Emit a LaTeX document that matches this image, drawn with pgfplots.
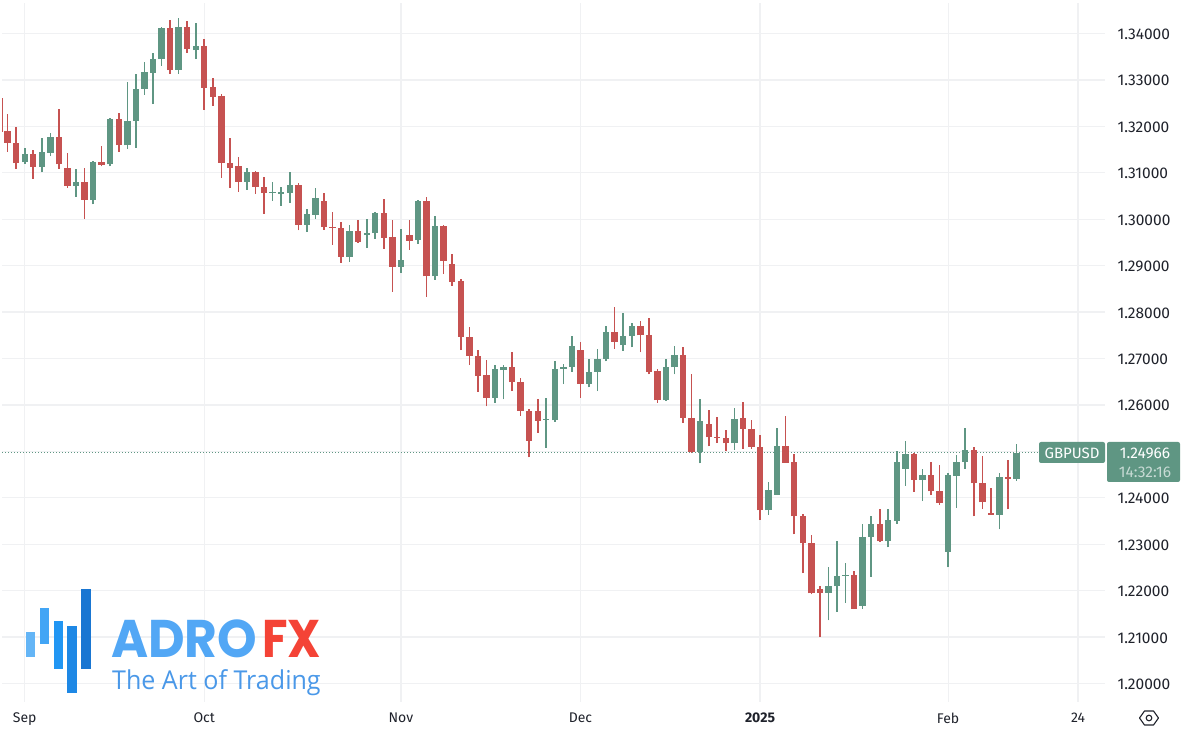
\documentclass[border=0pt]{standalone}
\usepackage{pgfplots}
\usepackage{pgfplotstable}
\usepackage{fontspec}
\pgfplotsset{compat=1.18}
\setmainfont{Fira Sans}
\newfontfamily\logofont{Poppins}
\newfontfamily\tagfont{Open Sans}
\definecolor{cred}{HTML}{C65251}
\definecolor{cgreen}{HTML}{5F9683}
\definecolor{gridc}{HTML}{F0F1F3}
\definecolor{labc}{HTML}{1F222B}
\definecolor{la}{HTML}{64B5F6}
\definecolor{lb}{HTML}{42A5F5}
\definecolor{lc}{HTML}{2196F3}
\definecolor{ld}{HTML}{1E88E5}
\definecolor{le}{HTML}{1976D2}
\definecolor{adro}{HTML}{52A7F5}
\definecolor{fx}{HTML}{F44336}
\definecolor{tagc}{HTML}{4A98E8}
\pgfplotstableread{
x high top bot low
-0.63 1.3260 1.3188 1.3188 1.3188
0 1.3226 1.3190 1.3165 1.3145
1 1.3199 1.3165 1.3121 1.3109
3 1.3149 1.3141 1.3113 1.3087
6 1.3238 1.3177 1.3118 1.3109
7 1.3142 1.3110 1.3072 1.3068
9 1.3110 1.3080 1.3042 1.3001
11 1.3157 1.3123 1.3117 1.3114
13 1.3228 1.3215 1.3159 1.3145
19 1.3429 1.3411 1.3321 1.3313
21 1.3426 1.3414 1.3366 1.3358
23 1.3389 1.3373 1.3283 1.3236
24 1.3305 1.3284 1.3264 1.3244
25 1.3269 1.3265 1.3122 1.3089
26 1.3174 1.3122 1.3111 1.3068
27 1.3133 1.3114 1.3081 1.3059
29 1.3103 1.3101 1.3069 1.3055
30 1.3092 1.3069 1.3056 1.3012
34 1.3077 1.3073 1.2988 1.2976
37 1.3056 1.3039 1.2983 1.2977
38 1.3015 1.2984 1.2982 1.2945
39 1.2994 1.2982 1.2919 1.2906
41 1.2998 1.2974 1.2951 1.2949
44 1.3043 1.3013 1.2960 1.2936
45 1.2999 1.2961 1.2898 1.2844
47 1.2998 1.2966 1.2954 1.2934
49 1.3048 1.3040 1.2877 1.2833
51 1.2987 1.2985 1.2910 1.2882
52 1.2925 1.2903 1.2865 1.2857
53 1.2872 1.2867 1.2747 1.2718
54 1.2767 1.2747 1.2706 1.2686
55 1.2718 1.2706 1.2663 1.2628
56 1.2696 1.2664 1.2615 1.2597
59 1.2714 1.2681 1.2649 1.2630
60 1.2659 1.2649 1.2587 1.2577
61 1.2592 1.2587 1.2523 1.2487
62 1.2612 1.2588 1.2566 1.2540
67 1.2735 1.2718 1.2646 1.2616
71 1.2811 1.2758 1.2736 1.2721
74 1.2781 1.2771 1.2750 1.2713
75 1.2787 1.2750 1.2671 1.2666
76 1.2678 1.2674 1.2610 1.2605
79 1.2725 1.2708 1.2572 1.2562
80 1.2666 1.2572 1.2499 1.2496
82 1.2589 1.2559 1.2530 1.2511
83 1.2575 1.2532 1.2530 1.2519
84 1.2547 1.2529 1.2517 1.2501
86 1.2606 1.2572 1.2549 1.2506
87 1.2568 1.2548 1.2510 1.2506
88 1.2535 1.2510 1.2373 1.2352
91 1.2576 1.2512 1.2476 1.2476
92 1.2494 1.2477 1.2360 1.2321
93 1.2365 1.2360 1.2302 1.2238
94 1.2320 1.2302 1.2194 1.2192
95 1.2210 1.2203 1.2196 1.2100
99 1.2242 1.2233 1.2161 1.2160
102 1.2375 1.2344 1.2306 1.2305
106 1.2496 1.2495 1.2439 1.2413
108 1.2477 1.2449 1.2414 1.2406
109 1.2470 1.2414 1.2389 1.2385
113 1.2509 1.2503 1.2431 1.2360
114 1.2490 1.2431 1.2390 1.2376
115 1.2421 1.2368 1.2364 1.2364
117 1.2482 1.2444 1.2441 1.2375
}\redtable
\pgfplotstableread{
x high top bot low
2 1.3154 1.3141 1.3123 1.3119
4 1.3174 1.3144 1.3113 1.3101
5 1.3185 1.3177 1.3143 1.3136
8 1.3108 1.3080 1.3072 1.3048
10 1.3125 1.3123 1.3042 1.3032
12 1.3218 1.3215 1.3118 1.3114
14 1.3296 1.3211 1.3159 1.3152
15 1.3312 1.3280 1.3212 1.3154
16 1.3338 1.3316 1.3281 1.3268
17 1.3358 1.3345 1.3315 1.3248
18 1.3415 1.3411 1.3345 1.3330
20 1.3433 1.3414 1.3322 1.3313
22 1.3422 1.3373 1.3364 1.3345
28 1.3111 1.3101 1.3081 1.3063
31 1.3081 1.3059 1.3057 1.3040
32 1.3070 1.3058 1.3055 1.3029
33 1.3101 1.3073 1.3057 1.3035
35 1.3021 1.3011 1.2988 1.2973
36 1.3068 1.3045 1.3010 1.3000
40 1.2987 1.2974 1.2919 1.2908
42 1.3000 1.2970 1.2966 1.2938
43 1.3015 1.3013 1.2970 1.2958
46 1.2979 1.2913 1.2898 1.2885
48 1.3041 1.3040 1.2955 1.2947
50 1.3008 1.2985 1.2877 1.2870
57 1.2685 1.2677 1.2615 1.2605
58 1.2687 1.2681 1.2675 1.2612
63 1.2616 1.2569 1.2568 1.2508
64 1.2694 1.2677 1.2567 1.2564
65 1.2689 1.2681 1.2678 1.2645
66 1.2748 1.2727 1.2682 1.2671
68 1.2699 1.2671 1.2646 1.2638
69 1.2720 1.2699 1.2671 1.2630
70 1.2770 1.2758 1.2700 1.2694
72 1.2798 1.2749 1.2730 1.2717
73 1.2776 1.2771 1.2748 1.2724
77 1.2698 1.2681 1.2610 1.2609
78 1.2727 1.2708 1.2681 1.2666
81 1.2613 1.2565 1.2499 1.2474
85 1.2593 1.2570 1.2517 1.2504
89 1.2434 1.2416 1.2373 1.2363
90 1.2550 1.2512 1.2407 1.2407
96 1.2250 1.2210 1.2196 1.2136
97 1.2307 1.2231 1.2210 1.2155
98 1.2259 1.2234 1.2233 1.2174
100 1.2344 1.2316 1.2168 1.2161
101 1.2360 1.2344 1.2316 1.2230
103 1.2375 1.2352 1.2306 1.2293
104 1.2500 1.2478 1.2351 1.2344
105 1.2523 1.2495 1.2463 1.2426
107 1.2462 1.2449 1.2439 1.2393
110 1.2454 1.2449 1.2284 1.2250
111 1.2492 1.2478 1.2448 1.2379
112 1.2550 1.2503 1.2478 1.2463
116 1.2453 1.2444 1.2364 1.2332
118 1.2515 1.2497 1.2441 1.2437
}\greentable
\pgfplotsset{
 wick/.style={draw=none,fill=none,no markers,forget plot,error bars/.cd,y dir=plus,y explicit,error mark=none,error bar style={draw=#1,line width=1.6pt}},
 body/.style={draw=none,fill=none,no markers,forget plot,error bars/.cd,y dir=plus,y explicit,error mark=none,error bar style={draw=#1,line width=6.4pt}},
}
\begin{document}
\begin{tikzpicture}[x=1pt,y=1pt]
\path[use as bounding box] (0,0) rectangle (1182,736);
\begin{axis}[
 at={(2pt,34pt)},anchor=south west,scale only axis,width=1103pt,height=699pt,
 xmin=-0.655,xmax=128.35,ymin=1.19602,ymax=1.34657,
 axis line style={draw=none},tick style={draw=none},
 grid=major,grid style={color=gridc,line width=1.2pt},
 xtick={2,23,46,67,88,110,125.2},
 xticklabels={Sep,Oct,Nov,Dec,\textbf{2025},Feb,24},
 ytick={1.20,1.21,1.22,1.23,1.24,1.25,1.26,1.27,1.28,1.29,1.30,1.31,1.32,1.33,1.34},
 yticklabels={1.20000,1.21000,1.22000,1.23000,1.24000,{},1.26000,1.27000,1.28000,1.29000,1.30000,1.31000,1.32000,1.33000,1.34000},
 yticklabel pos=right,
 xticklabel style={font=\fontsize{14}{16}\selectfont,text=labc,yshift=-7pt},
 yticklabel style={font=\fontsize{15.5}{17}\selectfont,text=labc,anchor=west,xshift=9pt,yshift=-0.8pt},
]
\addplot[color=cgreen,line width=1pt,dash pattern=on 1pt off 2pt,forget plot] coordinates {(-0.655,1.24966) (120.5,1.24966)};
\addplot[wick=cred] table[x=x,y=low,y error plus expr=\thisrow{high}-\thisrow{low}] {\redtable};
\addplot[body=cred] table[x=x,y=bot,y error plus expr=\thisrow{top}-\thisrow{bot}] {\redtable};
\addplot[wick=cgreen] table[x=x,y=low,y error plus expr=\thisrow{high}-\thisrow{low}] {\greentable};
\addplot[body=cgreen] table[x=x,y=bot,y error plus expr=\thisrow{top}-\thisrow{bot}] {\greentable};
\end{axis}
% price labels
\fill[cgreen,rounded corners=2pt] (1039,294) rectangle (1105,273);
\fill[cgreen,rounded corners=2pt] (1107,294) rectangle (1180,254);
\node[text=white,font=\fontsize{15}{17}\selectfont] at (1072,282.3) {GBPUSD};
\node[text=white,font=\fontsize{15.5}{17}\selectfont] at (1145,282.3) {1.24966};
\node[text=white!65!cgreen,font=\fontsize{15.5}{17}\selectfont] at (1145,263.5) {14:32:16};
% settings icon
\draw[labc,line width=1.1pt,line join=round] (1139.5,18) -- (1144.5,25) -- (1153.5,25) -- (1158.5,18) -- (1153.5,11) -- (1144.5,11) -- cycle;
\draw[labc,line width=1.1pt] (1149,18) circle (2.8);
% logo
\fill[la] (26,79) rectangle (35,104);
\fill[lb] (39.7,91.7) rectangle (49,128.3);
\fill[lc] (53.7,66.7) rectangle (63,115);
\fill[ld] (67.3,43) rectangle (76.7,110);
\fill[le] (81.3,66.7) rectangle (90.7,147);
\node[anchor=base west,inner sep=0pt,xscale=0.95,transform shape,font=\logofont\bfseries\fontsize{53}{60}\selectfont,text=adro] at (111,79) {ADRO};
\node[anchor=base west,inner sep=0pt,xscale=0.88,transform shape,font=\logofont\bfseries\fontsize{53}{60}\selectfont,text=fx] at (262,79) {FX};
\node[anchor=base west,inner sep=0pt,xscale=0.964,transform shape,font=\tagfont\fontsize{26}{29}\selectfont,text=tagc] at (112,47) {The Art of Trading};
\end{tikzpicture}
\end{document}
